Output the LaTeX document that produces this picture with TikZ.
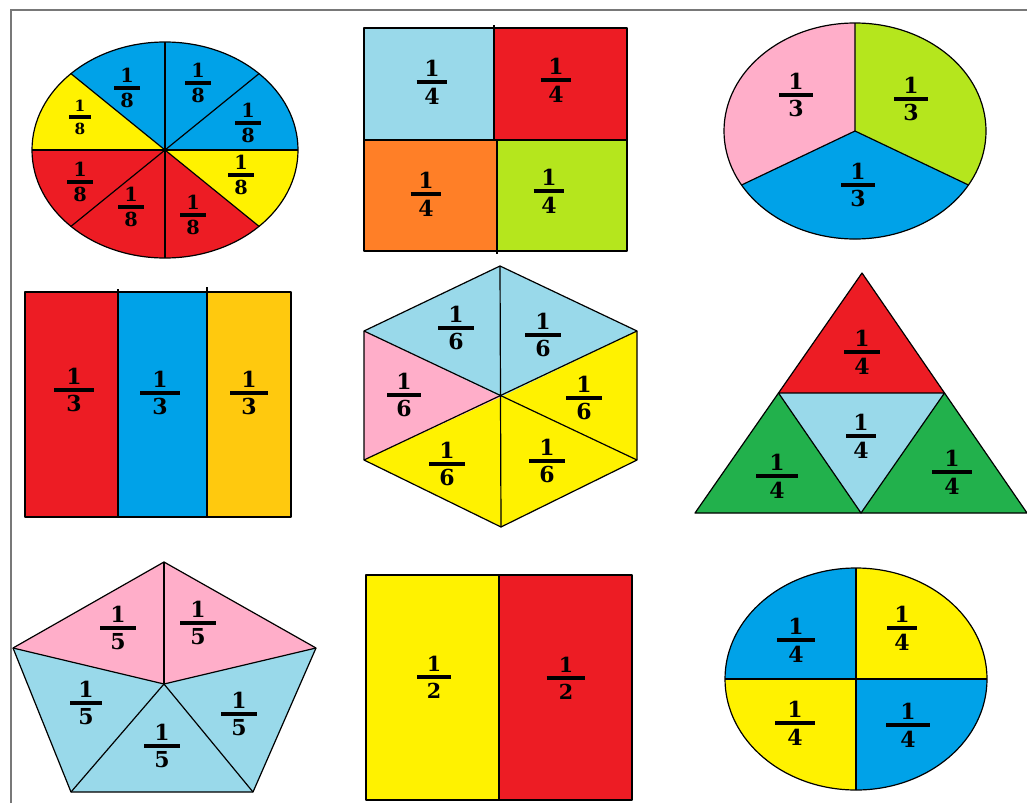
\documentclass[tikz,border=0pt]{standalone}
\usepackage{fontspec}
\newfontfamily\digitfont{DejaVu Serif}
\usetikzlibrary{calc}
\definecolor{cBlue}{RGB}{0,162,232}
\definecolor{cYel}{RGB}{255,242,0}
\definecolor{cRed}{RGB}{237,28,36}
\definecolor{cLBlue}{RGB}{153,217,234}
\definecolor{cOrange}{RGB}{255,127,39}
\definecolor{cLime}{RGB}{181,230,29}
\definecolor{cPink}{RGB}{255,174,201}
\definecolor{cGreen}{RGB}{34,177,76}
\definecolor{cGold}{RGB}{255,201,14}
\definecolor{cFrame}{RGB}{120,120,120}
\newcommand{\fr}[2]{\vbox{\offinterlineskip\halign{\hfil##\hfil\cr 1\cr\noalign{\kern3pt}\vrule width #2 height 2.6pt depth 0pt\cr\noalign{\kern3pt}#1\cr}}}
\begin{document}
\begin{tikzpicture}[x=0.75pt,y=-0.75pt,
  part/.style={draw=black, line width=0.9pt, line join=round},
  lab/.style={inner sep=0pt, font=\fontsize{#1}{#1}\digitfont\bfseries},
  lab/.default=16.5]
\useasboundingbox (0,0) rectangle (1027,803);
\fill[white] (0,0) rectangle (1027,803);
% frame
\draw[cFrame, line width=1.5pt] (11,803) -- (11,10) -- (1027,10);

% ---- 1: ellipse in eighths
\begin{scope}[shift={(165,150)}, yscale=-1]
  \fill[cBlue] (0,0) -- (0:133 and 108) arc[start angle=0, end angle=135, x radius=133, y radius=108] -- cycle;
  \fill[cYel] (0,0) -- (135:133 and 108) arc[start angle=135, end angle=180, x radius=133, y radius=108] -- cycle;
  \fill[cRed] (0,0) -- (180:133 and 108) arc[start angle=180, end angle=315, x radius=133, y radius=108] -- cycle;
  \fill[cYel] (0,0) -- (315:133 and 108) arc[start angle=315, end angle=360, x radius=133, y radius=108] -- cycle;
  \draw[part] (0,0) ellipse[x radius=133, y radius=108];
  \draw[part] (90:133 and 108) -- (270:133 and 108);
  \draw[part] (0:133 and 108) -- (180:133 and 108);
  \draw[part] (45:133 and 108) -- (225:133 and 108);
  \draw[part] (135:133 and 108) -- (315:133 and 108);
\end{scope}
\node[lab=14.5] (e1) at (127,88) {\fr{8}{19pt}};
\node[lab=14.5] (e2) at (198,83) {\fr{8}{19pt}};
\node[lab=14.5] (e3) at (248,123) {\fr{8}{19pt}};
\node[lab=11.5] (e4) at (80,117) {\fr{8}{16pt}};
\node[lab=14.5] (e5) at (80,182) {\fr{8}{19pt}};
\node[lab=14.5] (e6) at (131,207) {\fr{8}{19pt}};
\node[lab=14.5] (e7) at (193,215) {\fr{8}{19pt}};
\node[lab=14.5] (e8) at (241,175) {\fr{8}{19pt}};

% ---- 2: square in quarters
\fill[cLBlue] (364,28) rectangle (494,140);
\fill[cRed] (494,28) rectangle (627,140);
\fill[cOrange] (364,140) rectangle (497,251);
\fill[cLime] (497,140) rectangle (627,251);
\draw[part] (364,28) rectangle (627,251);
\draw[part] (494,25) -- (494,140);
\draw[part] (497,140) -- (497,254);
\draw[part] (364,140) -- (627,140);
\node[lab] (q1) at (432,82) {\fr{4}{23pt}};
\node[lab] (q2) at (556,80) {\fr{4}{23pt}};
\node[lab] (q3) at (426,194) {\fr{4}{23pt}};
\node[lab] (q4) at (549,191) {\fr{4}{23pt}};

% ---- 3: ellipse in thirds
\begin{scope}[shift={(855,131)}, yscale=-1]
  \fill[cLime] (0,0) -- (-30:131 and 108) arc[start angle=-30, end angle=90, x radius=131, y radius=108] -- cycle;
  \fill[cPink] (0,0) -- (90:131 and 108) arc[start angle=90, end angle=210, x radius=131, y radius=108] -- cycle;
  \fill[cBlue] (0,0) -- (210:131 and 108) arc[start angle=210, end angle=330, x radius=131, y radius=108] -- cycle;
  \draw[part] (0,0) ellipse[x radius=131, y radius=108];
  \draw[part] (90:131 and 108) -- (0,0) -- (210:131 and 108);
  \draw[part] (0,0) -- (330:131 and 108);
\end{scope}
\node[lab] (t1) at (796,95) {\fr{3}{25pt}};
\node[lab] (t2) at (911,99) {\fr{3}{25pt}};
\node[lab] (t3) at (858,185) {\fr{3}{25pt}};

% ---- 4: rectangle in thirds
\fill[cRed] (25,292) rectangle (118,517);
\fill[cBlue] (118,292) rectangle (207,517);
\fill[cGold] (207,292) rectangle (291,517);
\draw[part] (25,292) rectangle (291,517);
\draw[part] (118,289) -- (118,517);
\draw[part] (207,287) -- (207,517);
\node[lab] (r1) at (74,390) {\fr{3}{30pt}};
\node[lab] (r2) at (160,393) {\fr{3}{30pt}};
\node[lab] (r3) at (249,393) {\fr{3}{28pt}};

% ---- 5: hexagon in sixths
\coordinate (hT) at (500,266);
\coordinate (hUL) at (364,331);
\coordinate (hUR) at (637,331);
\coordinate (hLL) at (364,460);
\coordinate (hLR) at (637,460);
\coordinate (hB) at (501,527);
\coordinate (hC) at (501,397);
\fill[cLBlue] (hC) -- (hUL) -- (hT) -- (hUR) -- cycle;
\fill[cPink] (hC) -- (hUL) -- (hLL) -- cycle;
\fill[cYel] (hC) -- (hUR) -- (hLR) -- (hB) -- (hLL) -- cycle;
\draw[part] (hT) -- (hUR) -- (hLR) -- (hB) -- (hLL) -- (hUL) -- cycle;
\draw[part] (hT) -- (hB);
\draw[part] (hUL) -- (hLR);
\draw[part] (hUR) -- (hLL);
\node[lab] (x1) at (456,328) {\fr{6}{27pt}};
\node[lab] (x2) at (543,335) {\fr{6}{27pt}};
\node[lab] (x3) at (404,395) {\fr{6}{25pt}};
\node[lab] (x4) at (584,398) {\fr{6}{27pt}};
\node[lab] (x5) at (447,464) {\fr{6}{27pt}};
\node[lab] (x6) at (547,461) {\fr{6}{27pt}};

% ---- 6: triangle in quarters
\coordinate (gA) at (862,273);
\coordinate (gL) at (695,513);
\coordinate (gR) at (1027,513);
\coordinate (gML) at ($(gA)!0.5!(gL)$);
\coordinate (gMR) at ($(gA)!0.5!(gR)$);
\coordinate (gMB) at ($(gL)!0.5!(gR)$);
\fill[cRed] (gA) -- (gML) -- (gMR) -- cycle;
\fill[cLBlue] (gML) -- (gMR) -- (gMB) -- cycle;
\fill[cGreen] (gML) -- (gL) -- (gMB) -- cycle;
\fill[cGreen] (gMR) -- (gMB) -- (gR) -- cycle;
\draw[part] (gA) -- (gR) -- (gL) -- cycle;
\draw[part] (gML) -- (gMR) -- (gMB) -- cycle;
\node[lab] (g1) at (862,352) {\fr{4}{27pt}};
\node[lab] (g2) at (861,436) {\fr{4}{22pt}};
\node[lab] (g3) at (777,476) {\fr{4}{31pt}};
\node[lab] (g4) at (952,472) {\fr{4}{30pt}};

% ---- 7: pentagon in fifths
\coordinate (pT) at (164,562);
\coordinate (pL) at (13,648);
\coordinate (pR) at (316,648);
\coordinate (pBL) at (71,792);
\coordinate (pBR) at (253,792);
\coordinate (pC) at (164,684);
\fill[cPink] (pC) -- (pL) -- (pT) -- (pR) -- cycle;
\fill[cLBlue] (pC) -- (pR) -- (pBR) -- (pBL) -- (pL) -- cycle;
\draw[part] (pT) -- (pR) -- (pBR) -- (pBL) -- (pL) -- cycle;
\draw[part] (pT) -- (pC);
\draw[part] (pL) -- (pC) -- (pR);
\draw[part] (pBL) -- (pC) -- (pBR);
\node[lab] (p1) at (118,628) {\fr{5}{27pt}};
\node[lab] (p2) at (198,623) {\fr{5}{27pt}};
\node[lab] (p3) at (86,703) {\fr{5}{24pt}};
\node[lab] (p4) at (162,746) {\fr{5}{27pt}};
\node[lab] (p5) at (239,714) {\fr{5}{27pt}};

% ---- 8: rectangle in halves
\fill[cYel] (366,575) rectangle (499,800);
\fill[cRed] (499,575) rectangle (632,800);
\draw[part] (366,575) rectangle (632,800);
\draw[part] (499,575) -- (499,800);
\node[lab=15.5] (h1) at (434,677) {\fr{2}{25pt}};
\node[lab=15.5] (h2) at (566,678) {\fr{2}{29pt}};

% ---- 9: ellipse in quarters
\begin{scope}[shift={(856,679)}, yscale=-1]
  \fill[cYel] (0,0) -- (0:131 and 111) arc[start angle=0, end angle=90, x radius=131, y radius=111] -- cycle;
  \fill[cBlue] (0,0) -- (90:131 and 111) arc[start angle=90, end angle=180, x radius=131, y radius=111] -- cycle;
  \fill[cYel] (0,0) -- (180:131 and 111) arc[start angle=180, end angle=270, x radius=131, y radius=111] -- cycle;
  \fill[cBlue] (0,0) -- (270:131 and 111) arc[start angle=270, end angle=360, x radius=131, y radius=111] -- cycle;
  \draw[part] (0,0) ellipse[x radius=131, y radius=111];
  \draw[part] (90:131 and 111) -- (270:131 and 111);
  \draw[part] (0:131 and 111) -- (180:131 and 111);
\end{scope}
\node[lab] (c1) at (796,640) {\fr{4}{28pt}};
\node[lab] (c2) at (902,628) {\fr{4}{22pt}};
\node[lab] (c3) at (795,723) {\fr{4}{30pt}};
\node[lab] (c4) at (908,725) {\fr{4}{33pt}};
\end{tikzpicture}
\end{document}
